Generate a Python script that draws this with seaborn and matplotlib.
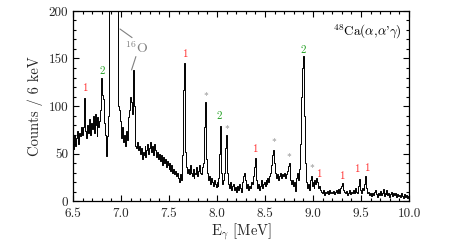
import numpy as np
import pandas as pd
import seaborn as sns
import matplotlib.pyplot as plt
from matplotlib.ticker import MultipleLocator

# spectrum, 10 keV steps from 6.50 to 10.00 MeV (one row per 0.1 MeV)
e_start, e_step = 6.50, 0.01
counts = [
    62, 55, 70, 58, 66, 74, 60, 72, 68, 78,          # 6.5
    70, 78, 108, 74, 66, 80, 72, 86, 70, 82,         # 6.6
    76, 90, 72, 92, 80, 68, 88, 78, 84, 96,          # 6.7
    129, 112, 107, 82, 70, 47, 68, 90, 500, 600,     # 6.8
    620, 640, 900, 700, 600, 600, 520, 100, 96, 84,  # 6.9
    72, 66, 78, 62, 70, 58, 74, 64, 88, 96,          # 7.0
    110, 104, 92, 138, 100, 58, 56, 62, 54, 58,      # 7.1
    50, 56, 44, 52, 48, 58, 46, 54, 60, 50,          # 7.2
    56, 62, 52, 58, 48, 60, 54, 46, 52, 44,          # 7.3
    50, 42, 48, 38, 46, 40, 44, 36, 42, 38,          # 7.4
    34, 40, 32, 38, 30, 34, 28, 32, 26, 30,          # 7.5
    24, 20, 28, 22, 48, 117, 145, 52, 36, 30,        # 7.6
    34, 28, 38, 30, 26, 34, 24, 30, 28, 36,          # 7.7
    26, 32, 38, 30, 28, 36, 40, 78, 104, 44,         # 7.8
    30, 22, 26, 18, 24, 20, 16, 22, 18, 15,          # 7.9
    20, 16, 24, 50, 79, 30, 18, 22, 30, 56,          # 8.0
    70, 30, 18, 14, 20, 12, 16, 18, 12, 15,          # 8.1
    10, 16, 12, 18, 14, 10, 16, 20, 26, 29,          # 8.2
    22, 14, 18, 12, 16, 14, 20, 18, 26, 36,          # 8.3
    45, 22, 14, 18, 12, 16, 22, 14, 18, 20,          # 8.4
    16, 22, 18, 24, 20, 26, 30, 38, 48, 54,          # 8.5
    40, 30, 24, 28, 22, 26, 30, 24, 28, 26,          # 8.6
    30, 24, 28, 32, 37, 40, 26, 22, 18, 22,          # 8.7
    16, 20, 11, 24, 30, 22, 34, 60, 110, 140,        # 8.8
    153, 90, 40, 20, 14, 18, 12, 22, 26, 16,         # 8.9
    20, 14, 22, 18, 24, 20, 14, 16, 12, 10,          # 9.0
    8, 12, 6, 10, 8, 11, 7, 12, 9, 10,               # 9.1
    8, 11, 7, 10, 12, 8, 10, 13, 9, 14,              # 9.2
    16, 19, 12, 10, 8, 11, 6, 9, 12, 7,              # 9.3
    10, 8, 12, 9, 14, 10, 8, 16, 23, 12,             # 9.4
    8, 10, 14, 12, 18, 26, 14, 8, 10, 6,             # 9.5
    8, 5, 9, 6, 10, 12, 7, 4, 8, 6,                  # 9.6
    11, 6, 8, 13, 5, 9, 7, 12, 6, 8,                 # 9.7
    4, 7, 10, 5, 8, 6, 9, 4, 7, 5,                   # 9.8
    6, 4, 8, 5, 3, 7, 4, 6, 3, 5,                    # 9.9
    4,                                               # 10.0
]

# peak labels: text, energy, height
peak_text = ["1", "2", "1", "*", "2", "*", "1", "*", "*", "2", "*", "1", "1", "1", "1"]
peak_e = [6.623, 6.80, 7.663, 7.879, 8.028, 8.098, 8.393, 8.587, 8.743,
          8.896, 8.983, 9.063, 9.30, 9.46, 9.56]
peak_c = [119, 137, 154, 110, 89, 75, 55, 61, 45, 159, 34, 28, 26, 33, 35]

energy = np.round(e_start + e_step * np.arange(len(counts)), 3)
df = pd.DataFrame({"E": energy, "counts": counts})

sns.set_theme(style="ticks")
plt.rcParams["font.family"] = ["cmr10", "DejaVu Serif"]
plt.rcParams["mathtext.fontset"] = "cm"
plt.rcParams["axes.formatter.use_mathtext"] = True
plt.rcParams["axes.unicode_minus"] = False

fig = plt.figure(figsize=(4.52, 2.44), dpi=100)
ax = fig.add_axes([0.1615, 0.176, 0.7435, 0.779])

sns.lineplot(data=df, x="E", y="counts", ax=ax, color="black", lw=0.7,
             drawstyle="steps-mid", estimator=None)

ax.set_xlim(6.5, 10.0)
ax.set_ylim(0, 200)
ax.xaxis.set_major_locator(MultipleLocator(0.5))
ax.xaxis.set_minor_locator(MultipleLocator(0.1))
ax.yaxis.set_major_locator(MultipleLocator(50))
ax.yaxis.set_minor_locator(MultipleLocator(10))
ax.xaxis.set_major_formatter(lambda v, p: f"{v:.1f}")
ax.yaxis.set_major_formatter(lambda v, p: f"{v:.0f}")
ax.tick_params(which="both", direction="in", top=True, right=True,
               labelsize=9.5, width=0.8, color="black")
ax.tick_params(which="major", length=4)
ax.tick_params(which="minor", length=2)
ax.tick_params(axis="x", pad=5)
for s in ax.spines.values():
    s.set_linewidth(0.9)
    s.set_color("black")

ax.set_xlabel(r"E$_\gamma$ [MeV]", fontsize=10.5, labelpad=1)
ax.set_ylabel("Counts / 6 keV", fontsize=10.5, labelpad=4)

colors = {"1": "#ff2a2a", "2": "#22a022", "*": "#808080"}
for t, e, c in zip(peak_text, peak_e, peak_c):
    ax.text(e, c, t, color=colors[t], ha="center", va="center",
            fontsize=7 if t == "*" else 8)

# 16O label with pointer lines
ax.text(7.16, 161, r"$^{16}$O", color="#808080", ha="center", va="center",
        fontsize=10)
ax.plot([6.99, 7.115], [181, 172], color="#808080", lw=0.8)
ax.plot([7.11, 7.155], [138, 152], color="#808080", lw=0.8)

ax.text(9.92, 178, r"$^{48}$Ca($\alpha$,$\alpha$'$\gamma$)", ha="right",
        va="center", fontsize=9.5, color="black")

fig.savefig("out.png", dpi=100)
